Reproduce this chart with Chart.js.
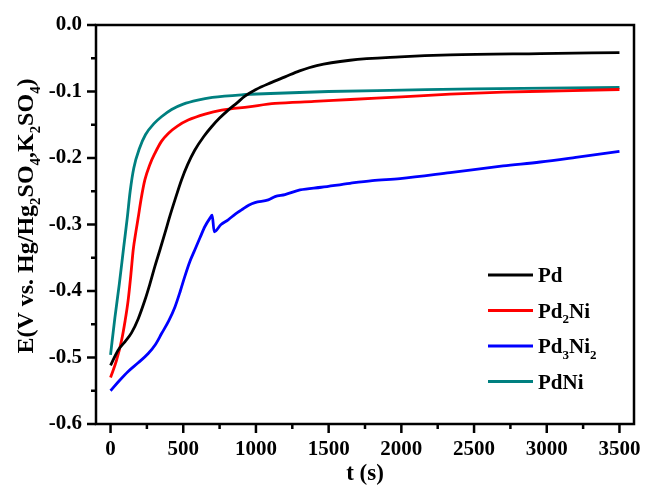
<!DOCTYPE html>
<html>
<head>
<meta charset="utf-8">
<script src="https://cdn.jsdelivr.net/npm/chart.js@4.4.1/dist/chart.umd.min.js"></script>
<style>
  html, body { margin: 0; padding: 0; background: #ffffff; }
  canvas { display: block; }
</style>
</head>
<body>
<canvas id="chart" width="645" height="485"></canvas>
<script>
// Open-circuit potential vs. time for Pd and Pd–Ni catalysts
const FONT = '"Liberation Serif", "Times New Roman", serif';

// Series labels ("_n" marks a subscript digit) and colours
const seriesNames  = ['Pd', 'Pd_2Ni', 'Pd_3Ni_2', 'PdNi'];
const seriesColors = ['#000000', '#ff0000', '#0000ff', '#008080'];

// Pd
const pdT = [0, 52, 100, 144, 190, 236, 270, 305, 340, 374, 410, 443, 488, 530, 580, 640, 695, 750, 809, 870, 924, 1000, 1100, 1200, 1300, 1418, 1647, 1991, 2335, 2955, 3500];
const pdE = [-0.512, -0.489, -0.476, -0.463, -0.442, -0.414, -0.390, -0.363, -0.338, -0.313, -0.286, -0.263, -0.233, -0.210, -0.188, -0.168, -0.153, -0.140, -0.128, -0.117, -0.107, -0.097, -0.087, -0.078, -0.069, -0.061, -0.053, -0.048, -0.045, -0.043, -0.0415];

// Pd2Ni
const pd2niT = [0, 40, 76, 100, 121, 140, 156, 175, 190, 210, 236, 270, 305, 350, 397, 460, 534, 650, 764, 950, 1131, 1400, 1650, 2000, 2335, 2700, 3100, 3500];
const pd2niE = [-0.530, -0.505, -0.474, -0.445, -0.414, -0.375, -0.338, -0.310, -0.290, -0.262, -0.233, -0.210, -0.193, -0.175, -0.163, -0.152, -0.143, -0.134, -0.128, -0.123, -0.118, -0.115, -0.112, -0.108, -0.104, -0.101, -0.099, -0.097];

// Pd3Ni2
const pd3ni2T = [0, 60, 121, 190, 259, 310, 351, 400, 443, 480, 511, 545, 580, 615, 649, 685, 699, 713, 760, 809, 860, 901, 950, 993, 1085, 1131, 1200, 1303, 1450, 1647, 1800, 1991, 2335, 2700, 2955, 3200, 3500];
const pd3ni2E = [-0.550, -0.535, -0.521, -0.508, -0.494, -0.480, -0.464, -0.445, -0.424, -0.400, -0.378, -0.356, -0.338, -0.320, -0.303, -0.290, -0.286, -0.311, -0.300, -0.293, -0.284, -0.278, -0.271, -0.267, -0.263, -0.258, -0.255, -0.248, -0.244, -0.238, -0.234, -0.231, -0.222, -0.212, -0.206, -0.199, -0.190];

// PdNi
const pdniT = [0, 30, 60, 90, 115, 135, 160, 200, 240, 300, 350, 420, 500, 600, 700, 900, 1100, 1500, 2000, 2500, 3000, 3500];
const pdniE = [-0.496, -0.440, -0.390, -0.335, -0.290, -0.250, -0.215, -0.185, -0.165, -0.148, -0.138, -0.127, -0.119, -0.113, -0.109, -0.105, -0.103, -0.100, -0.098, -0.096, -0.095, -0.094];

// Axis ticks
const xTickValues = [0, 500, 1000, 1500, 2000, 2500, 3000, 3500];
const yTickValues = [0, -0.1, -0.2, -0.3, -0.4, -0.5, -0.6];

const xTitle = 't (s)';
const yTitle = 'E(V vs. Hg/Hg_2SO_4,K_2SO_4)';

const seriesT = [pdT, pd2niT, pd3ni2T, pdniT];
const seriesE = [pdE, pd2niE, pd3ni2E, pdniE];

const datasets = seriesNames.map((name, i) => ({
  label: name,
  data: seriesT[i].map((t, k) => ({ x: t, y: seriesE[i][k] })),
  borderColor: seriesColors[i],
  backgroundColor: seriesColors[i],
  borderWidth: 2.8,
  pointRadius: 0,
  fill: false,
  cubicInterpolationMode: 'monotone'
}));

// Split "Pd_3Ni_2" into normal / subscript runs
function parseRich(str) {
  const parts = [];
  for (let i = 0; i < str.length; i++) {
    if (str[i] === '_' && i + 1 < str.length) {
      parts.push({ t: str[i + 1], sub: true });
      i++;
    } else {
      const last = parts[parts.length - 1];
      if (last && !last.sub) last.t += str[i];
      else parts.push({ t: str[i], sub: false });
    }
  }
  return parts;
}

function richWidth(ctx, parts, size) {
  let w = 0;
  for (const p of parts) {
    ctx.font = 'bold ' + (p.sub ? size * 0.62 : size) + 'px ' + FONT;
    w += ctx.measureText(p.t).width;
  }
  return w;
}

function drawRich(ctx, parts, x, y, size) {
  let cx = x;
  ctx.textBaseline = 'alphabetic';
  ctx.textAlign = 'left';
  for (const p of parts) {
    const s = p.sub ? size * 0.62 : size;
    ctx.font = 'bold ' + s + 'px ' + FONT;
    ctx.fillText(p.t, cx, y + (p.sub ? size * 0.28 : 0));
    cx += ctx.measureText(p.t).width;
  }
}

const frameAndDecor = {
  id: 'frameAndDecor',
  afterDraw(chart) {
    const ctx = chart.ctx;
    const { left, right, top, bottom } = chart.chartArea;
    const xs = chart.scales.x, ys = chart.scales.y;
    ctx.save();
    ctx.strokeStyle = '#000';
    ctx.fillStyle = '#000';
    ctx.lineWidth = 2.5;
    ctx.lineCap = 'butt';
    ctx.strokeRect(left, top, right - left, bottom - top);

    // x ticks: major every 500, minor halfway
    for (let i = 0; i < xTickValues.length; i++) {
      const v = xTickValues[i];
      const px = xs.getPixelForValue(v);
      ctx.beginPath(); ctx.moveTo(px, bottom); ctx.lineTo(px, bottom + 9); ctx.stroke();
      if (i < xTickValues.length - 1) {
        const m = xs.getPixelForValue((v + xTickValues[i + 1]) / 2);
        ctx.beginPath(); ctx.moveTo(m, bottom); ctx.lineTo(m, bottom + 5); ctx.stroke();
      }
    }
    // y ticks: major every 0.1, minor halfway
    for (let i = 0; i < yTickValues.length; i++) {
      const v = yTickValues[i];
      const py = ys.getPixelForValue(v);
      ctx.beginPath(); ctx.moveTo(left, py); ctx.lineTo(left - 9, py); ctx.stroke();
      if (i < yTickValues.length - 1) {
        const m = ys.getPixelForValue((v + yTickValues[i + 1]) / 2);
        ctx.beginPath(); ctx.moveTo(left, m); ctx.lineTo(left - 5, m); ctx.stroke();
      }
    }

    // x title
    ctx.font = 'bold 23px ' + FONT;
    ctx.textAlign = 'center';
    ctx.textBaseline = 'middle';
    ctx.fillText(xTitle, (left + right) / 2, 474);

    // y title, rotated
    const yParts = parseRich(yTitle);
    const ySize = 24;
    const yw = richWidth(ctx, yParts, ySize);
    ctx.save();
    ctx.translate(33, 216);
    ctx.rotate(-Math.PI / 2);
    drawRich(ctx, yParts, -yw / 2, 0, ySize);
    ctx.restore();

    // legend
    const lx0 = 488, lx1 = 533, tx = 538, ly0 = 275, dy = 35.5, lSize = 21;
    seriesNames.forEach((name, i) => {
      const y = ly0 + i * dy;
      ctx.strokeStyle = seriesColors[i];
      ctx.lineWidth = 2.8;
      ctx.beginPath(); ctx.moveTo(lx0, y); ctx.lineTo(lx1, y); ctx.stroke();
      ctx.fillStyle = '#000';
      drawRich(ctx, parseRich(name), tx, y + 7, lSize);
    });
    ctx.restore();
  }
};

new Chart(document.getElementById('chart'), {
  type: 'line',
  data: { datasets },
  options: {
    responsive: false,
    animation: false,
    events: [],
    layout: { padding: { left: 0, right: 11, top: 25, bottom: 0 } },
    plugins: { legend: { display: false }, tooltip: { enabled: false } },
    scales: {
      x: {
        type: 'linear',
        min: -100,
        max: 3600,
        afterFit: s => { s.height = 61; s.paddingLeft = 0; s.paddingRight = 0; },
        afterBuildTicks: s => { s.ticks = xTickValues.map(v => ({ value: v })); },
        grid: { display: false, drawTicks: false },
        border: { display: false },
        ticks: {
          autoSkip: false,
          maxRotation: 0,
          padding: 13,
          color: '#000',
          font: { family: FONT, size: 21, weight: 'bold' },
          callback: v => String(v)
        }
      },
      y: {
        type: 'linear',
        min: -0.6,
        max: 0,
        afterFit: s => { s.width = 96; s.paddingTop = 0; s.paddingBottom = 0; },
        afterBuildTicks: s => { s.ticks = yTickValues.map(v => ({ value: v })); },
        grid: { display: false, drawTicks: false },
        border: { display: false },
        ticks: {
          autoSkip: false,
          padding: 14,
          color: '#000',
          font: { family: FONT, size: 21, weight: 'bold' },
          callback: v => v.toFixed(1)
        }
      }
    }
  },
  plugins: [frameAndDecor]
});
</script>
</body>
</html>
